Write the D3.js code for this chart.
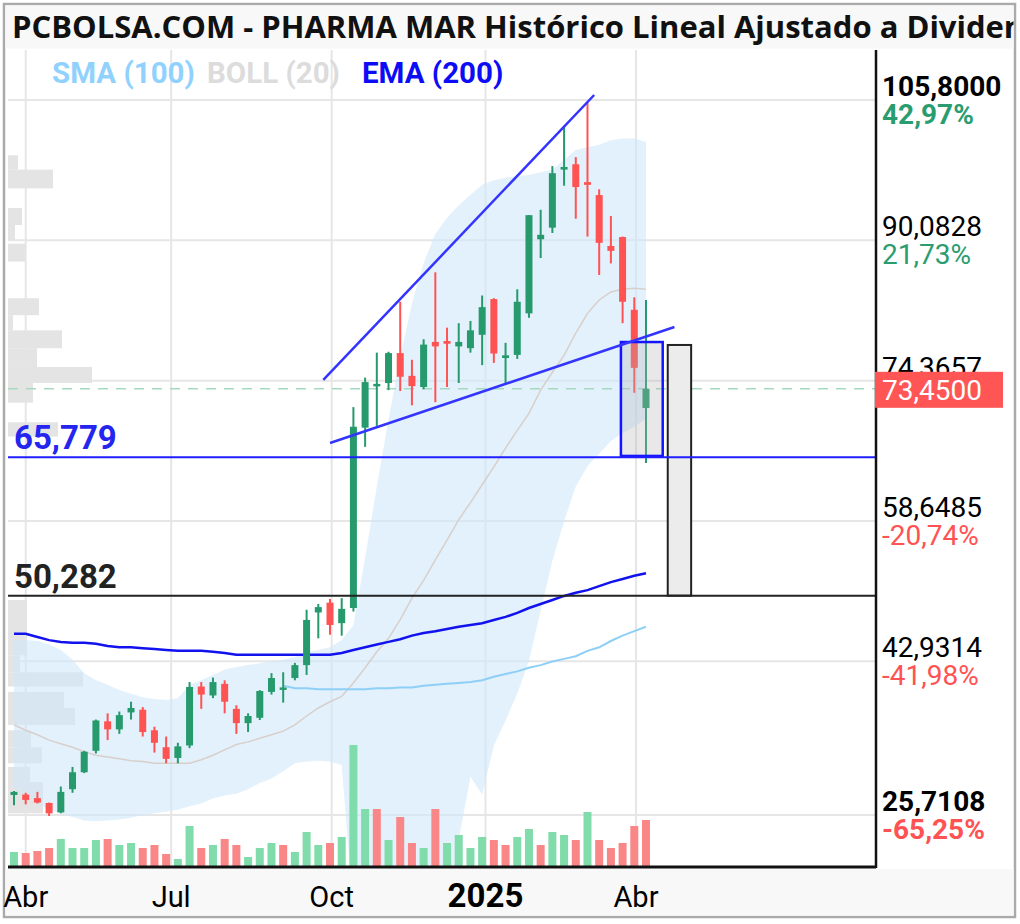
<!DOCTYPE html>
<html>
<head>
<meta charset="utf-8">
<script src="https://cdn.jsdelivr.net/npm/d3@7"></script>
<style>
  body { margin: 0; background: #fff; }
  text { font-family: Roboto, sans-serif; }
</style>
</head>
<body>
<svg id="chart" width="1020" height="924"></svg>
<script>
// weekly candles, PHARMA MAR, Mar 2024 - Apr 2025
const firstWeek = "2024-03-25";
const lastWeek = "2025-04-07";

const open = [27.95, 28.0, 27.6, 27.06, 26.0, 28.6, 30.5, 32.9, 36.2, 35.3, 37.2, 37.5, 35.2, 33.3, 32.1,
  33.5, 40.1, 39.1, 40.4, 37.6, 36.0, 36.6, 39.5, 39.8, 41.05, 42.5, 48.4, 49.5, 47.2,
  48.9, 69.1, 73.8, 74.1, 77.45, 74.9, 73.65, 78.7, 78.8, 78.2, 78.0, 79.5, 83.5,
  76.9, 77.25, 81.9, 90.2, 91.5, 98.0, 98.6, 96.6, 95.15, 89.45, 90.45, 82.3, 71.3];
const high = [28.4, 28.2, 28.3, 27.1, 28.9, 31.1, 32.9, 36.4, 37.1, 37.3, 38.4, 37.8, 35.6, 34.5, 33.8,
  40.6, 40.6, 41.1, 40.8, 38.0, 37.1, 39.7, 41.6, 41.7, 42.75, 48.7, 49.35, 49.9, 50.0,
  71.4, 74.7, 77.5, 77.6, 83.2, 76.7, 79.0, 86.5, 80.3, 80.8, 81.05, 83.9, 83.6,
  78.6, 84.6, 92.9, 93.5, 98.4, 102.9, 99.4, 105.5, 95.8, 92.8, 90.5, 83.7, 83.4];
const low = [26.8, 26.9, 27.0, 25.6, 25.9, 28.2, 30.4, 32.6, 34.1, 34.8, 36.4, 34.5, 32.7, 31.5, 31.5,
  33.2, 37.6, 38.8, 37.1, 34.8, 35.0, 36.35, 39.2, 38.3, 40.8, 41.4, 45.5, 45.9, 45.8,
  48.5, 66.95, 69.3, 73.3, 73.2, 71.6, 73.4, 71.95, 73.65, 74.1, 77.5, 76.1, 76.35,
  74.1, 76.8, 81.4, 88.1, 90.9, 96.2, 92.5, 90.5, 86.2, 87.5, 80.8, 73.0, 65.15];
const close = [28.3, 27.4, 27.1, 25.9, 28.3, 30.5, 32.8, 36.3, 35.3, 36.9, 37.7, 35.0, 33.8, 32.0, 33.4,
  40.05, 39.2, 40.6, 38.4, 36.0, 36.8, 39.6, 41.05, 40.0, 42.5, 47.56, 49.0, 47.0, 48.8,
  69.2, 74.2, 74.0, 77.45, 74.8, 73.75, 78.4, 78.2, 78.5, 78.7, 80.0, 82.6, 77.4,
  77.2, 83.2, 92.9, 90.7, 97.6, 98.3, 96.05, 96.3, 89.8, 88.9, 83.2, 75.8, 73.45];
// volume, thousands of shares
const volume = [150, 140, 160, 190, 280, 190, 190, 270, 280, 220, 240, 190, 220, 130, 80,
  410, 190, 220, 280, 220, 100, 190, 240, 220, 150, 350, 220, 240, 300,
  1220, 580, 580, 270, 500, 240, 190, 580, 240, 320, 190, 300, 270,
  220, 300, 380, 220, 350, 320, 270, 550, 270, 190, 240, 410, 470];

const bollUpper = [45.3, 45.3, 45.2, 44.8, 44.2, 43.1, 41.6, 40.8, 40.3, 39.7, 39.3, 38.9, 38.7, 38.6, 38.8,
  40.3, 40.8, 41.4, 42.0, 42.3, 42.5, 42.7, 43.0, 43.1, 43.4, 44.0, 44.2, 44.5, 45.3,
  47.0, 54.5, 62.5, 70.0, 77.0, 83.0, 87.5, 90.8, 92.6, 94.0, 95.2, 96.3, 96.8,
  97.1, 97.3, 97.4, 97.7, 98.0, 99.1, 100.2, 100.5, 100.8, 101.3, 101.5, 101.5, 101.1];
const bollMid = [35.8, 35.2, 34.7, 34.1, 33.7, 33.3, 32.8, 32.4, 32.2, 32.0, 31.8, 31.7, 31.5, 31.5, 31.5,
  31.5, 31.9, 32.4, 33.0, 33.6, 33.9, 34.3, 34.7, 35.1, 35.8, 36.8, 37.7, 38.4, 39.0,
  40.5, 42.2, 44.0, 45.5, 47.6, 50.0, 52.0, 54.3, 56.5, 58.8, 60.7, 62.7, 64.7,
  66.8, 68.8, 70.7, 73.3, 75.3, 77.2, 79.7, 81.9, 83.4, 84.3, 84.6, 84.7, 84.6];
const bollLower = [28.7, 27.9, 27.0, 26.3, 25.9, 25.5, 25.1, 25.0, 25.1, 25.2, 25.4, 25.7, 25.9, 26.1, 26.3,
  26.7, 27.0, 27.6, 27.9, 28.1, 28.6, 29.3, 29.8, 30.6, 31.5, 31.7, 31.8, 31.7, 31.3,
  15.0, 10.0, 8.0, 6.0, 5.0, 5.0, 6.0, 8.0, 12.0, 23.0, 30.0, 28.0, 33.5,
  36.3, 39.3, 43.0, 48.6, 54.2, 58.6, 62.5, 64.8, 66.2, 67.6, 68.5, 69.2, 70.1];
const sma100 = [40.2, 39.9, 39.9, 39.8, 39.8, 39.8, 39.8, 39.8, 39.9, 39.9, 40.0, 40.0, 40.2,
  40.3, 40.4, 40.5, 40.6, 40.8, 41.2, 41.5, 41.8, 42.2, 42.5, 42.9, 43.2, 43.5, 44.1,
  44.5, 45.2, 45.8, 46.3, 46.8]; // from week 24
const ema200 = [46.0, 46.0, 45.65, 45.3, 45.1, 45.0, 45.0, 44.9, 44.65, 44.5, 44.5, 44.4, 44.3, 44.2, 44.1,
  44.1, 44.1, 44.0, 43.85, 43.65, 43.65, 43.65, 43.65, 43.65, 43.65, 43.65, 43.65, 43.65, 43.85,
  44.2, 44.5, 44.8, 45.1, 45.4, 45.8, 46.1, 46.3, 46.55, 46.8, 47.0, 47.2, 47.55,
  47.9, 48.35, 48.9, 49.35, 49.8, 50.25, 50.6, 50.9, 51.35, 51.8, 52.15, 52.5, 52.8];

// volume at price (left profile): [top, bottom, volume]
const profile = [[99.6, 98.0, 10], [98.0, 95.9, 45], [93.7, 91.8, 14], [91.8, 90.1, 7], [89.7, 87.7, 17],
  [83.6, 81.7, 31], [81.7, 80.0, 5], [80.0, 78.0, 54], [78.0, 75.9, 29], [75.9, 74.1, 84],
  [74.1, 71.9, 25], [69.7, 68.1, 50], [49.8, 43.6, 19], [43.6, 41.7, 12], [41.7, 40.1, 75],
  [39.5, 37.7, 56], [37.7, 35.8, 67], [35.2, 33.3, 23], [33.3, 31.5, 34], [31.1, 29.4, 22],
  [29.4, 25.9, 35]];

const priceTicks = [105.8, 90.0828, 74.3657, 58.6485, 42.9314, 25.7108];
const tickLabels = ["105,8000", "90,0828", "74,3657", "58,6485", "42,9314", "25,7108"];
const pctLabels = ["42,97%", "21,73%", "", "-20,74%", "-41,98%", "-65,25%"];
const boldTicks = [true, false, false, false, false, true];
const monthTicks = ["2024-04-01", "2024-06-27", "2024-10-01", "2025-01-01", "2025-04-01"];
const monthLabels = ["Abr", "Jul", "Oct", "2025", "Abr"];

const lastPrice = 73.45;
const levels = [{ v: 65.779, label: "65,779", color: "#1e1eff", text: "#2525f0" },
  { v: 50.282, label: "50,282", color: "#222", text: "#222" }];
const trendLines = [[["2024-09-26", 74.44], ["2025-03-07", 106.36]],
  [["2024-09-30", 67.38], ["2025-04-24", 80.37]]];
const boxBlue = [["2025-03-23", 78.69], ["2025-04-17", 65.93]];
const boxGray = [["2025-04-20", 78.36], ["2025-05-04", 50.282]];

const parse = d3.utcParse("%Y-%m-%d");
const weeks = d3.utcMonday.range(parse(firstWeek), d3.utcDay.offset(parse(lastWeek), 1));

const svg = d3.select("#chart");
const plot = { left: 8, right: 876, top: 50, bottom: 867 };

const x = d3.scaleUtc().domain([parse(firstWeek), parse(lastWeek)]).range([14, 646]);
const y = d3.scaleLinear().domain([25.7108, 105.8]).range([815, 100]);
const vy = d3.scaleLinear().domain([0, 1000]).range([0, 100]);
const px = d3.scaleLinear().domain([0, 100]).range([plot.left, plot.left + 100]);

// frame and backgrounds
svg.append("rect").attr("x", 4).attr("y", 4).attr("width", 1011).attr("height", 913)
  .attr("fill", "#fff").attr("stroke", "#aaa").attr("stroke-width", 2.5);
svg.append("rect").attr("x", 5.5).attr("y", 5.5).attr("width", 1008).attr("height", 43).attr("fill", "#f8f8f8");
svg.append("rect").attr("x", 5.5).attr("y", 869).attr("width", 1008).attr("height", 46.5).attr("fill", "#f8f8f8");

svg.append("clipPath").attr("id", "clipTitle").append("rect")
  .attr("x", 5).attr("y", 5).attr("width", 1008.5).attr("height", 44);
svg.append("text").attr("x", 12).attr("y", 38).attr("clip-path", "url(#clipTitle)")
  .style("font-family", "'Open Sans', sans-serif").style("font-weight", 700).style("font-size", "31px")
  .attr("fill", "#111").text("PCBOLSA.COM - PHARMA MAR Histórico Lineal Ajustado a Dividendos");

svg.append("clipPath").attr("id", "clip").append("rect")
  .attr("x", plot.left).attr("y", plot.top)
  .attr("width", plot.right - plot.left).attr("height", plot.bottom - plot.top);

const g = svg.append("g").attr("clip-path", "url(#clip)");

// grid
g.selectAll(".hgrid").data(priceTicks).enter().append("line")
  .attr("x1", plot.left).attr("x2", plot.right)
  .attr("y1", d => y(d)).attr("y2", d => y(d))
  .attr("stroke", "#e6e6e6").attr("stroke-width", 2);
g.selectAll(".vgrid").data(monthTicks).enter().append("line")
  .attr("x1", d => x(parse(d))).attr("x2", d => x(parse(d)))
  .attr("y1", plot.top).attr("y2", plot.bottom)
  .attr("stroke", "#e6e6e6").attr("stroke-width", 2);

// volume profile
g.selectAll(".prof").data(profile).enter().append("rect")
  .attr("x", plot.left).attr("y", d => y(d[0]))
  .attr("width", d => px(d[2]) - plot.left).attr("height", d => y(d[1]) - y(d[0]))
  .attr("fill", "#e4e4e4");

// bollinger band
const band = d3.area()
  .x((d, i) => x(weeks[i]))
  .y0((d, i) => y(bollLower[i]))
  .y1(d => y(d));
g.append("path").attr("d", band(bollUpper)).attr("fill", "#cfe8fa").attr("fill-opacity", 0.6);

const line = d3.line().x((d, i) => x(weeks[i])).y(d => y(d));
g.append("path").attr("d", line(bollMid)).attr("fill", "none")
  .attr("stroke", "#d9cfca").attr("stroke-width", 1.5);

// volume bars
const up = close.map((c, i) => i === 0 || c >= close[i - 1]);
g.selectAll(".vol").data(volume).enter().append("rect")
  .attr("x", (d, i) => x(weeks[i]) - 4).attr("width", 8)
  .attr("y", d => plot.bottom - vy(d)).attr("height", d => vy(d))
  .attr("fill", (d, i) => up[i] ? "#80dcaa" : "#f98787");

// moving averages
const smaStart = weeks.length - sma100.length;
const lineOffset = d3.line().x((d, i) => x(weeks[i + smaStart])).y(d => y(d));
g.append("path").attr("d", lineOffset(sma100)).attr("fill", "none")
  .attr("stroke", "#8ecff7").attr("stroke-width", 2);
g.append("path").attr("d", line(ema200)).attr("fill", "none")
  .attr("stroke", "#1212ee").attr("stroke-width", 2.5);

// last price dashed line
g.append("line").attr("x1", plot.left).attr("x2", plot.right)
  .attr("y1", y(lastPrice)).attr("y2", y(lastPrice))
  .attr("stroke", "#a6d9c0").attr("stroke-width", 1.5).attr("stroke-dasharray", "10,8");

// projection box
g.append("rect")
  .attr("x", x(parse(boxGray[0][0]))).attr("y", y(boxGray[0][1]))
  .attr("width", x(parse(boxGray[1][0])) - x(parse(boxGray[0][0])))
  .attr("height", y(boxGray[1][1]) - y(boxGray[0][1]))
  .attr("fill", "#ececec").attr("stroke", "#222").attr("stroke-width", 2);

// candles
const candles = g.selectAll(".candle").data(close).enter().append("g");
candles.append("line")
  .attr("x1", (d, i) => x(weeks[i])).attr("x2", (d, i) => x(weeks[i]))
  .attr("y1", (d, i) => y(high[i])).attr("y2", (d, i) => y(low[i]))
  .attr("stroke", (d, i) => d >= open[i] ? "#269a6c" : "#ff5252").attr("stroke-width", 2);
candles.append("rect")
  .attr("x", (d, i) => x(weeks[i]) - 3.5).attr("width", 7)
  .attr("y", (d, i) => y(Math.max(d, open[i])))
  .attr("height", (d, i) => Math.max(2.5, Math.abs(y(d) - y(open[i]))))
  .attr("fill", (d, i) => d >= open[i] ? "#269a6c" : "#ff5252");

// blue box
g.append("rect")
  .attr("x", x(parse(boxBlue[0][0]))).attr("y", y(boxBlue[0][1]))
  .attr("width", x(parse(boxBlue[1][0])) - x(parse(boxBlue[0][0])))
  .attr("height", y(boxBlue[1][1]) - y(boxBlue[0][1]))
  .attr("fill", "#b4b4b4").attr("fill-opacity", 0.3)
  .attr("stroke", "#1414ff").attr("stroke-width", 2.5);

// support / resistance levels
levels.forEach(l => {
  g.append("line").attr("x1", plot.left).attr("x2", plot.right)
    .attr("y1", y(l.v)).attr("y2", y(l.v))
    .attr("stroke", l.color).attr("stroke-width", 2);
  g.append("text").attr("x", 14).attr("y", y(l.v) - 8)
    .style("font-size", "33px").style("font-weight", 700)
    .attr("fill", l.text).text(l.label);
});

// trend lines
g.selectAll(".trend").data(trendLines).enter().append("line")
  .attr("x1", d => x(parse(d[0][0]))).attr("y1", d => y(d[0][1]))
  .attr("x2", d => x(parse(d[1][0]))).attr("y2", d => y(d[1][1]))
  .attr("stroke", "#3434ff").attr("stroke-width", 2.5);

// axes
svg.append("line").attr("x1", plot.right).attr("x2", plot.right)
  .attr("y1", plot.top).attr("y2", plot.bottom + 1).attr("stroke", "#111").attr("stroke-width", 2.5);
svg.append("line").attr("x1", plot.left).attr("x2", plot.right)
  .attr("y1", plot.bottom).attr("y2", plot.bottom).attr("stroke", "#111").attr("stroke-width", 3);

// right axis labels
priceTicks.forEach((v, i) => {
  svg.append("text").attr("x", 882).attr("y", y(v) - 4)
    .style("font-size", "28px").style("font-weight", boldTicks[i] ? 700 : 400)
    .attr("fill", "#000").text(tickLabels[i]);
  if (pctLabels[i]) {
    svg.append("text").attr("x", 882).attr("y", y(v) + 24)
      .style("font-size", "28px").style("font-weight", boldTicks[i] ? 700 : 400)
      .attr("fill", v > 74 ? "#2a9d70" : "#ff5252").text(pctLabels[i]);
  }
});
svg.append("rect").attr("x", 875).attr("y", y(lastPrice) - 17).attr("width", 128).attr("height", 36)
  .attr("fill", "#ff5555");
svg.append("text").attr("x", 882).attr("y", y(lastPrice) + 11)
  .style("font-size", "28px").attr("fill", "#fff").text("73,4500");

// bottom axis labels
monthTicks.forEach((d, i) => {
  const big = monthLabels[i] === "2025";
  svg.append("text").attr("x", x(parse(d))).attr("y", 907)
    .attr("text-anchor", "middle")
    .style("font-size", big ? "33px" : "29px").style("font-weight", big ? 700 : 400)
    .attr("fill", "#000").text(monthLabels[i]);
});

// legend
const legend = [{ t: "SMA (100)", c: "#90d2fd", x: 52 }, { t: "BOLL (20)", c: "#dcdcdc", x: 207 },
  { t: "EMA (200)", c: "#0c0cf5", x: 362 }];
legend.forEach(l => {
  svg.append("text").attr("x", l.x).attr("y", 83)
    .style("font-size", "29.5px").style("font-weight", 700).attr("fill", l.c).text(l.t);
});
</script>
</body>
</html>
